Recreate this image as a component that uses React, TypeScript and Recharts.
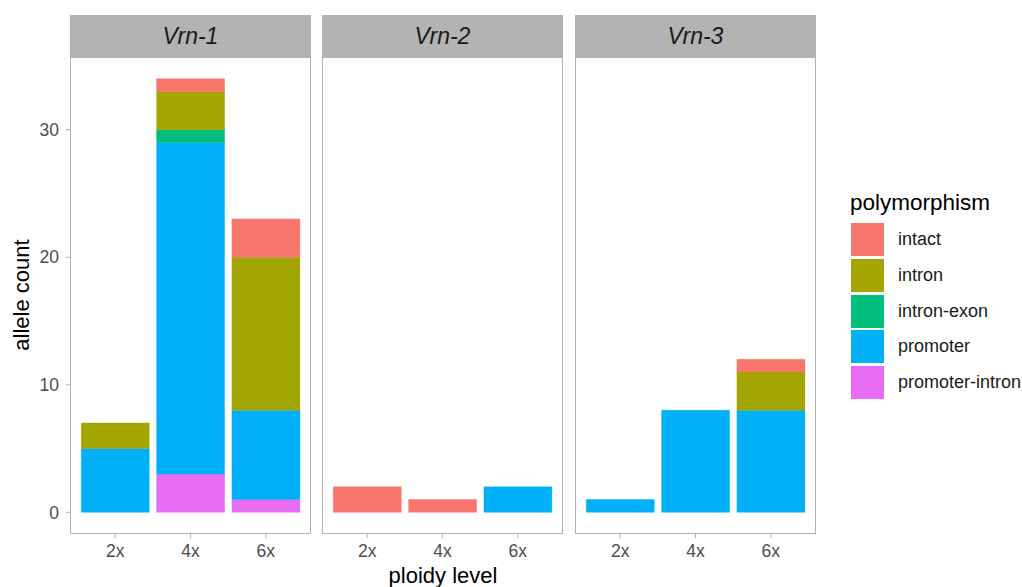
import { BarChart, Bar, XAxis, YAxis } from "recharts";

const ploidyLevels = ["2x", "4x", "6x"];
const genes = ["Vrn-1", "Vrn-2", "Vrn-3"];
const polymorphisms = ["intact", "intron", "intron-exon", "promoter", "promoter-intron"];
const colors = ["#F8766D", "#A3A500", "#00BF7D", "#00B0F6", "#E76BF3"];

// rows follow `polymorphisms`, columns follow `ploidyLevels`
const vrn1Counts = [
  [0, 1, 3],
  [2, 3, 12],
  [0, 1, 0],
  [5, 26, 7],
  [0, 3, 1],
];
const vrn2Counts = [
  [2, 1, 0],
  [0, 0, 0],
  [0, 0, 0],
  [0, 0, 2],
  [0, 0, 0],
];
const vrn3Counts = [
  [0, 0, 1],
  [0, 0, 3],
  [0, 0, 0],
  [1, 8, 8],
  [0, 0, 0],
];
const yTicks = [0, 10, 20, 30];

const FONT = '"Liberation Sans", Arial, sans-serif';
const GREY = "#b3b3b3";
const PANEL_TOP = 57;
const PANEL_H = 477;
const PANEL_W = 241;
const panelLefts = [70, 322, 575];

function toRows(counts: number[][]) {
  return ploidyLevels.map((p, i) => {
    const row: Record<string, string | number> = { ploidy: p };
    polymorphisms.forEach((k, j) => (row[k] = counts[j][i]));
    return row;
  });
}

function Panel({ counts, left, showY }: { counts: number[][]; left: number; showY: boolean }) {
  const yw = showY ? 70 : 0;
  // ggplot stacks the last factor level at the bottom
  const order = [...polymorphisms.keys()].reverse();
  return (
    <div style={{ position: "absolute", left: left - yw, top: PANEL_TOP }}>
      <BarChart
        width={PANEL_W + yw}
        height={PANEL_H + 40}
        data={toRows(counts)}
        margin={{ top: 0, right: 0, bottom: 0, left: 0 }}
        barCategoryGap="5%"
      >
        <XAxis
          dataKey="ploidy"
          height={40}
          padding={{ left: 7.5, right: 7.5 }}
          axisLine={false}
          tickLine={{ stroke: GREY }}
          tickSize={4}
          tickMargin={7}
          tick={{ fill: "#4d4d4d", fontSize: 17.5, fontFamily: FONT }}
        />
        <YAxis
          type="number"
          domain={[-1.7, 35.7]}
          ticks={yTicks}
          allowDataOverflow
          hide={!showY}
          width={70}
          axisLine={false}
          tickLine={{ stroke: GREY }}
          tickSize={4}
          tickMargin={7}
          tick={{ fill: "#4d4d4d", fontSize: 17.5, fontFamily: FONT }}
        />
        {order.map((j) => (
          <Bar
            key={polymorphisms[j]}
            dataKey={polymorphisms[j]}
            stackId="a"
            fill={colors[j]}
            stroke={colors[j]}
            strokeWidth={0.4}
            isAnimationActive={false}
          />
        ))}
      </BarChart>
    </div>
  );
}

export default function App() {
  const allCounts = [vrn1Counts, vrn2Counts, vrn3Counts];
  return (
    <div
      style={{
        position: "absolute",
        left: 0,
        top: 0,
        width: 1022,
        height: 587,
        background: "#fff",
        fontFamily: FONT,
        overflow: "hidden",
      }}
    >
      {genes.map((g, i) => (
        <Panel key={g} counts={allCounts[i]} left={panelLefts[i]} showY={i === 0} />
      ))}
      {genes.map((g, i) => (
        <div key={g + "-frame"}>
          <div
            style={{
              position: "absolute",
              left: panelLefts[i],
              top: 15,
              width: PANEL_W,
              height: PANEL_TOP - 15,
              background: GREY,
              display: "flex",
              alignItems: "center",
              justifyContent: "center",
              fontSize: 23,
              fontStyle: "italic",
              color: "#1a1a1a",
            }}
          >
            {g}
          </div>
          <div
            style={{
              position: "absolute",
              left: panelLefts[i],
              top: PANEL_TOP,
              width: PANEL_W,
              height: PANEL_H,
              border: `1px solid ${GREY}`,
              boxSizing: "border-box",
              pointerEvents: "none",
            }}
          />
        </div>
      ))}
      <div
        style={{
          position: "absolute",
          left: 70,
          width: 746,
          top: 564,
          textAlign: "center",
          fontSize: 22,
          lineHeight: "24px",
          color: "#000",
        }}
      >
        ploidy level
      </div>
      <div
        style={{
          position: "absolute",
          left: 22 - 100,
          top: 295 - 12,
          width: 200,
          height: 24,
          lineHeight: "24px",
          textAlign: "center",
          fontSize: 22,
          transform: "rotate(-90deg)",
          color: "#000",
        }}
      >
        allele count
      </div>
      <div style={{ position: "absolute", left: 850, top: 190, fontSize: 22.5, lineHeight: "26px" }}>
        polymorphism
      </div>
      {polymorphisms.map((p, i) => (
        <div
          key={p}
          style={{
            position: "absolute",
            left: 851,
            top: 222 + i * 35.8,
            height: 35,
            display: "flex",
            alignItems: "center",
          }}
        >
          <div style={{ width: 33, height: 33, background: colors[i] }} />
          <div style={{ marginLeft: 14, fontSize: 18, color: "#1a1a1a" }}>{p}</div>
        </div>
      ))}
    </div>
  );
}
